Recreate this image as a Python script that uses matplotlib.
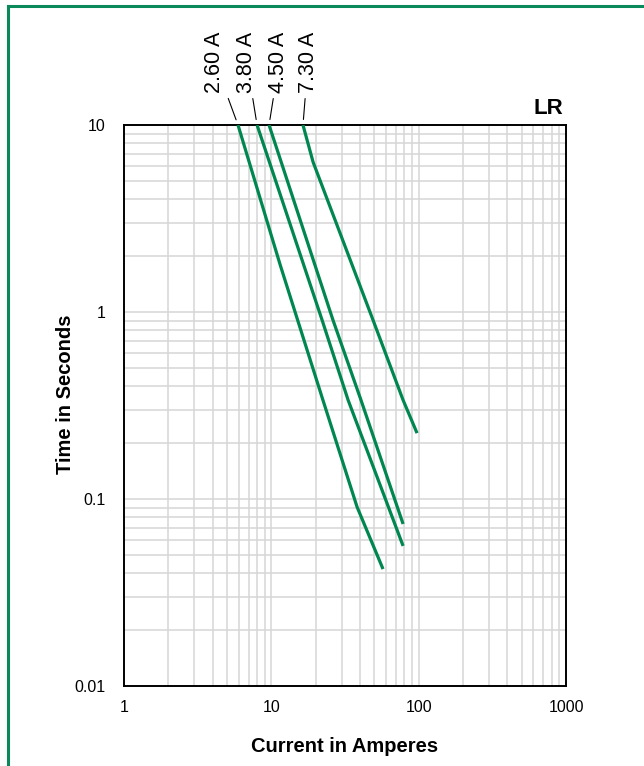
import matplotlib
matplotlib.use("Agg")
import matplotlib.pyplot as plt
from matplotlib.lines import Line2D
from matplotlib.ticker import FixedLocator, FixedFormatter, LogLocator, NullFormatter

# time-current data (current in A, time in s)
RATINGS = ["2.60 A", "3.80 A", "4.50 A", "7.30 A"]
CURRENT_260 = [5.94, 11.5, 22.4, 38.2, 57.3]
TIME_260 = [10, 1.78, 0.338, 0.0906, 0.0422]
CURRENT_380 = [8.0, 22.1, 33.2, 78.4]
TIME_380 = [10, 0.906, 0.338, 0.0561]
CURRENT_450 = [9.65, 26.2, 40.6, 78.4]
TIME_450 = [10, 0.906, 0.338, 0.0735]
CURRENT_730 = [16.4, 19.2, 49.0, 78.4, 97.5]
TIME_730 = [10, 6.34, 0.906, 0.338, 0.225]

X_TICKS = [1, 10, 100, 1000]
X_TICK_LABELS = ["1", "10", "100", "1000"]
Y_TICKS = [0.01, 0.1, 1, 10]
Y_TICK_LABELS = ["0.01", "0.1", "1", "10"]

GREEN = "#00874f"
FRAME = "#0a8a5a"

plt.rcParams["font.family"] = ["Liberation Sans", "DejaVu Sans"]

fig = plt.figure(figsize=(6.44, 7.66), dpi=100)
ax = fig.add_axes([124 / 644, 80 / 766, 442 / 644, 561 / 766])

ax.set_xscale("log")
ax.set_yscale("log")
ax.set_xlim(1, 1000)
ax.set_ylim(0.01, 10)

curves = [
    (CURRENT_260, TIME_260),
    (CURRENT_380, TIME_380),
    (CURRENT_450, TIME_450),
    (CURRENT_730, TIME_730),
]
for xs, ys in curves:
    ax.plot(xs, ys, color=GREEN, lw=2.3, solid_capstyle="butt", zorder=3)

ax.xaxis.set_major_locator(FixedLocator(X_TICKS))
ax.xaxis.set_major_formatter(FixedFormatter(X_TICK_LABELS))
ax.yaxis.set_major_locator(FixedLocator(Y_TICKS))
ax.yaxis.set_major_formatter(FixedFormatter(Y_TICK_LABELS))
for axis in (ax.xaxis, ax.yaxis):
    axis.set_minor_locator(LogLocator(base=10, subs=range(2, 10)))
    axis.set_minor_formatter(NullFormatter())

ax.grid(which="both", color="#d6d6d6", lw=1.1)
ax.set_axisbelow(True)
ax.tick_params(which="both", length=0)
ax.tick_params(axis="x", pad=10, labelsize=11.5)
ax.tick_params(axis="y", pad=13, labelsize=11.5)
for spine in ax.spines.values():
    spine.set_linewidth(1.4)
    spine.set_color("black")

ax.set_xlabel("Current in Amperes", fontsize=14.5, fontweight="bold", labelpad=16)
ax.set_ylabel("Time in Seconds", fontsize=14.5, fontweight="bold")
ax.yaxis.set_label_coords(-0.111, 0.52)

ax.text(0.993, 1.01, "LR", transform=ax.transAxes, ha="right", va="bottom",
        fontsize=16, fontweight="bold")

# rating labels with leader lines to the start of each curve
label_x = [215, 247, 279, 308]
for name, (xs, ys), tx in zip(RATINGS, curves, label_x):
    ax.annotate(
        name,
        xy=(xs[0], ys[0]),
        xycoords="data",
        xytext=(tx, 766 - 93),
        textcoords="figure pixels",
        rotation=90,
        ha="center",
        va="bottom",
        fontsize=15.5,
        annotation_clip=False,
        arrowprops=dict(arrowstyle="-", color="black", lw=0.8, shrinkA=2, shrinkB=4),
    )

# green frame (top and left edges)
fig.add_artist(Line2D([7.5 / 644, 1], [1 - 5.5 / 766, 1 - 5.5 / 766],
                      transform=fig.transFigure, color=FRAME, lw=2.2))
fig.add_artist(Line2D([7.5 / 644, 7.5 / 644], [0, 1 - 5.5 / 766],
                      transform=fig.transFigure, color=FRAME, lw=2.2))

fig.savefig("out.png", dpi=100)
